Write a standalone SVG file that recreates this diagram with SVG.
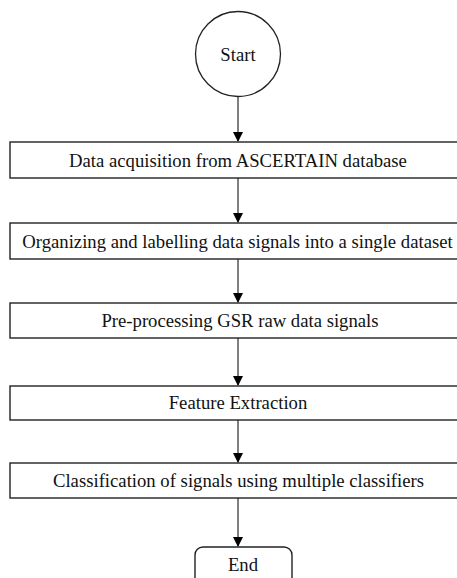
<svg xmlns="http://www.w3.org/2000/svg" width="457" height="578" viewBox="0 0 457 578">
<defs>
<marker id="ah" markerWidth="10" markerHeight="10" refX="9" refY="5" orient="auto" markerUnits="userSpaceOnUse">
<path d="M0,0 L10,5 L0,10 Z" fill="#000"/>
</marker>
<style>
.box{fill:#fff;stroke:#222;stroke-width:1.4}
.t{font-family:"Liberation Serif","Times New Roman",serif;font-size:18.7px;fill:#111;text-anchor:middle}
.c{stroke:#000;stroke-width:1;fill:none;marker-end:url(#ah)}
</style>
</defs>
<rect width="457" height="578" fill="#fff"/>
<g id="connectors">
<line class="c" x1="238" y1="97" x2="238" y2="141"/>
<line class="c" x1="238" y1="178" x2="238" y2="222"/>
<line class="c" x1="238" y1="259" x2="238" y2="302"/>
<line class="c" x1="238" y1="338" x2="238" y2="385"/>
<line class="c" x1="238" y1="420" x2="238" y2="462"/>
<line class="c" x1="238" y1="498" x2="238" y2="546"/>
</g>
<g id="start">
<circle cx="238" cy="54" r="42.5" fill="#fff" stroke="#222" stroke-width="1.3"/>
<text class="t" x="238" y="61">Start</text>
</g>
<g id="n1">
<rect class="box" x="10" y="142" width="460" height="36"/>
<text class="t" x="238" y="167">Data acquisition from ASCERTAIN database</text>
</g>
<g id="n2">
<rect class="box" x="10" y="223" width="460" height="36"/>
<text class="t" x="237.5" y="248">Organizing and labelling data signals into a single dataset</text>
</g>
<g id="n3">
<rect class="box" x="10" y="303" width="460" height="35"/>
<text class="t" x="240" y="327">Pre-processing GSR raw data signals</text>
</g>
<g id="n4">
<rect class="box" x="10" y="386" width="460" height="34"/>
<text class="t" x="238" y="409">Feature Extraction</text>
</g>
<g id="n5">
<rect class="box" x="10" y="463" width="460" height="35"/>
<text class="t" x="238.5" y="487">Classification of signals using multiple classifiers</text>
</g>
<g id="end">
<rect x="195" y="547" width="97" height="50" rx="8" fill="#fff" stroke="#222" stroke-width="1.4"/>
<text class="t" x="243" y="571">End</text>
</g>
</svg>
